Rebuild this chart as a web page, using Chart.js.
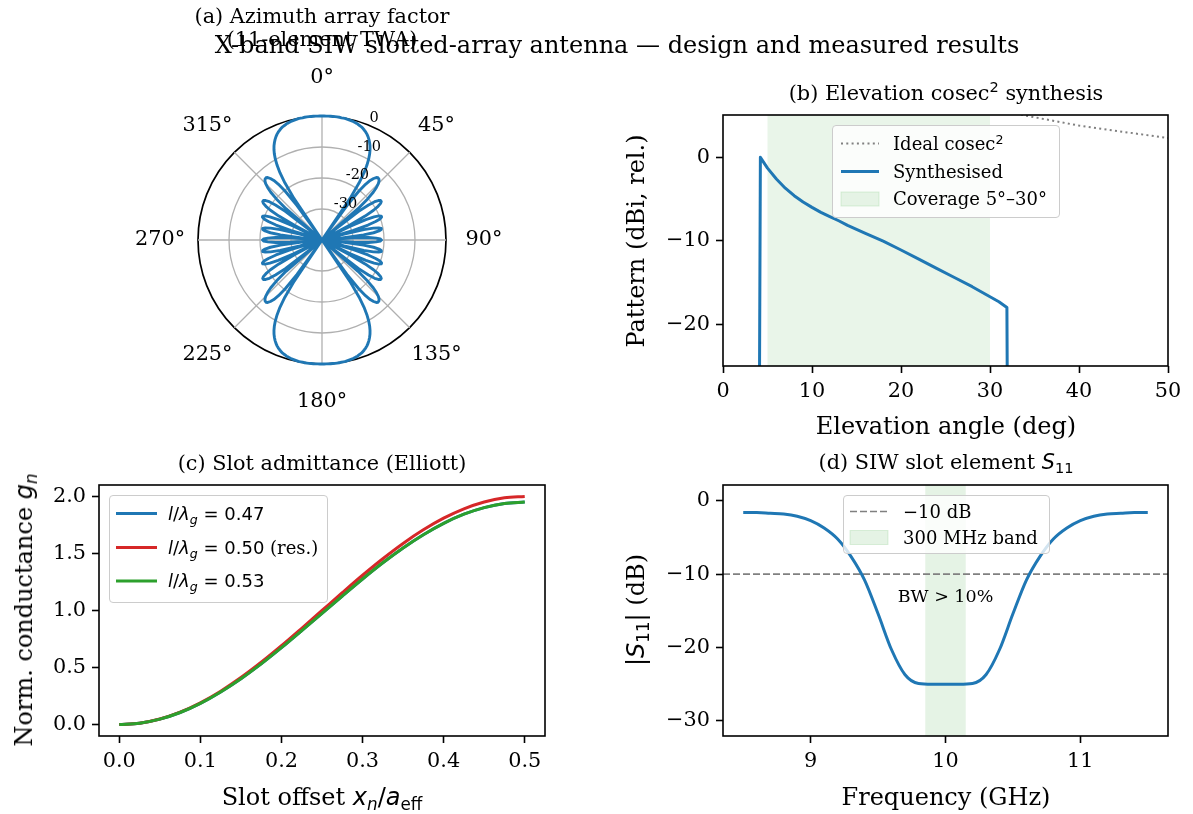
<!DOCTYPE html>
<html lang="en">
<head>
<meta charset="UTF-8">
<title>X-band SIW slotted-array antenna</title>
<script src="https://cdn.jsdelivr.net/npm/chart.js"></script>
<style>
  body { margin: 0; background: #fff; }
  #fig { position: relative; width: 1193px; height: 814px; overflow: hidden; font-family: 'DejaVu Serif', serif; color: #000; }
  .panel { position: absolute; }
  .txt { position: absolute; white-space: nowrap; line-height: 1; transform: translate(-50%, -50%); }
  .rot { transform: translate(-50%, -50%) rotate(-90deg); }
  .m { font-family: 'DejaVu Sans', sans-serif; }
  sub, sup { font-size: 0.7em; line-height: 0; }
  sub { vertical-align: -0.3em; }
  sup { vertical-align: 0.5em; }
  .legend { position: absolute; background: rgba(255,255,255,0.8); border: 1px solid #ccc; border-radius: 4px; box-sizing: border-box; }
  .legend svg { position: absolute; left: 0; top: 0; }
  .legend .row { position: absolute; white-space: nowrap; line-height: 1; transform: translateY(-50%); font-size: 18px; }
</style>
</head>
<body>
<div id="fig">
  <div class="panel" style="left:110px;top:0px"><canvas id="azChart" width="424" height="430"></canvas></div>
  <div class="panel" style="left:640px;top:85px"><canvas id="elChart" width="553" height="330"></canvas></div>
  <div class="panel" style="left:20px;top:455px"><canvas id="slotChart" width="545" height="330"></canvas></div>
  <div class="panel" style="left:640px;top:455px"><canvas id="s11Chart" width="553" height="330"></canvas></div>

  <div class="txt" style="left:322px;top:16px;font-size:20.8px">(a) Azimuth array factor</div>
  <div class="txt" style="left:322px;top:39px;font-size:20.8px">(11-element TWA)</div>
  <div class="txt" style="left:617px;top:45px;font-size:24px">X-band SIW slotted-array antenna — design and measured results</div>

  <div class="txt" style="left:946px;top:93px;font-size:20.8px">(b) Elevation cosec<sup class="m">2</sup> synthesis</div>
  <div class="txt rot" style="left:636px;top:241px;font-size:24px">Pattern (dBi, rel.)</div>
  <div class="txt" style="left:946px;top:426px;font-size:24px">Elevation angle (deg)</div>

  <div class="txt" style="left:322px;top:463px;font-size:20.8px">(c) Slot admittance (Elliott)</div>
  <div class="txt rot" style="left:24px;top:610px;font-size:24px">Norm. conductance <span class="m"><i>g</i><sub><i>n</i></sub></span></div>
  <div class="txt" style="left:322px;top:797px;font-size:24px">Slot offset <span class="m"><i>x</i><sub><i>n</i></sub>/<i>a</i><sub>eff</sub></span></div>

  <div class="txt" style="left:946px;top:462px;font-size:20.8px">(d) SIW slot element <span class="m"><i>S</i><sub>11</sub></span></div>
  <div class="txt rot" style="left:636px;top:610px;font-size:24px"><span class="m">|<i>S</i><sub>11</sub>|</span> (dB)</div>
  <div class="txt" style="left:946px;top:797px;font-size:24px">Frequency (GHz)</div>
</div>
<script>
// (a) azimuth array factor in dB, 0..90 deg at 1 deg steps; the pattern repeats mirrored in the other quadrants
const azQuarter = [
  0.0, 0.0, 0.0, 0.0, 0.0, 0.0, 0.0, 0.0, 0.0, -0.1,
  -0.1, -0.1, -0.2, -0.3, -0.4, -0.5, -0.7, -0.8, -1.1, -1.3,
  -1.6, -2.0, -2.4, -2.9, -3.5, -4.2, -5.0, -5.9, -7.0, -8.3,
  -9.9, -11.9, -14.4, -18.0, -23.9, -40, -26.3, -20.3, -17.2, -15.3,
  -14.1, -13.3, -13.0, -13.1, -13.5, -14.3, -15.6, -17.4, -20.2, -24.6,
  -40, -36.0, -25.0, -21.2, -19.0, -17.8, -17.2, -17.2, -17.7, -18.9,
  -20.8, -24.1, -30.1, -40, -29.8, -24.4, -21.6, -20.1, -19.4, -19.4,
  -20.1, -21.7, -24.4, -29.4, -40, -32.6, -26.1, -23.0, -21.3, -20.5,
  -20.6, -21.4, -23.2, -26.5, -33.4, -40, -29.7, -25.0, -22.5, -21.2,
  -20.8
];
const azThetaTicks = [0, 45, 90, 135, 180, 225, 270, 315];
const azThetaLabels = ['0°', '45°', '90°', '135°', '180°', '225°', '270°', '315°'];
const azRTicks = [-40, -30, -20, -10, 0];
const azRLabels = [0, -10, -20, -30];

// (b) elevation pattern
const bIdealX = [30, 32, 34, 36, 38, 40, 42, 44, 46, 48, 50];
const bIdealY = [6.0, 5.5, 5.0, 4.6, 4.2, 3.8, 3.5, 3.2, 2.9, 2.6, 2.3];
const bSynthX = [4.05, 4.2, 5, 6, 7, 8, 9, 10, 11, 12, 13, 14, 16, 18, 20, 22, 24, 26, 28, 30, 31, 31.9, 32.0];
const bSynthY = [-40, 0, -1.3, -2.6, -3.7, -4.6, -5.35, -6.0, -6.6, -7.1, -7.6, -8.15, -9.1, -10.05, -11.1, -12.2, -13.3, -14.4, -15.5, -16.7, -17.3, -18.0, -40];
const bCoverage = [5, 30];
const bXTicks = [0, 10, 20, 30, 40, 50];
const bYTicks = [-20, -10, 0];

// (c) slot conductance vs offset
const cX = [0, 0.025, 0.05, 0.075, 0.1, 0.125, 0.15, 0.175, 0.2, 0.225, 0.25, 0.275, 0.3, 0.325, 0.35, 0.375, 0.4, 0.425, 0.45, 0.475, 0.5];
const cG047 = [0, 0.012, 0.048, 0.106, 0.186, 0.286, 0.402, 0.532, 0.674, 0.823, 0.975, 1.127, 1.276, 1.418, 1.548, 1.664, 1.764, 1.844, 1.902, 1.938, 1.950];
const cG050 = [0, 0.012, 0.049, 0.109, 0.191, 0.293, 0.412, 0.546, 0.691, 0.844, 1.000, 1.156, 1.309, 1.454, 1.588, 1.707, 1.809, 1.891, 1.951, 1.988, 2.000];
const cG053 = [0, 0.012, 0.048, 0.106, 0.186, 0.286, 0.402, 0.532, 0.674, 0.823, 0.975, 1.127, 1.276, 1.418, 1.548, 1.664, 1.764, 1.844, 1.902, 1.938, 1.950];
const cXTicks = [0, 0.1, 0.2, 0.3, 0.4, 0.5];
const cYTicks = [0, 0.5, 1.0, 1.5, 2.0];

// (d) S11 of one slot element
const dFreq = [8.5, 8.6, 8.7, 8.8, 8.9, 9.0, 9.1, 9.2, 9.3, 9.4, 9.5, 9.6, 9.7, 9.8, 9.9, 10.0,
               10.1, 10.2, 10.3, 10.4, 10.5, 10.6, 10.7, 10.8, 10.9, 11.0, 11.1, 11.2, 11.3, 11.4, 11.5];
const dS11 = [-1.6, -1.6, -1.7, -1.8, -2.1, -2.7, -3.7, -5.2, -7.6, -10.8, -15.4, -20.3, -23.7, -24.9, -25.0, -25.0,
              -25.0, -24.9, -23.7, -20.3, -15.4, -10.8, -7.6, -5.2, -3.7, -2.7, -2.1, -1.8, -1.7, -1.6, -1.6];
const dBand = [9.85, 10.15];
const dLimit = -10;
const dXTicks = [9, 10, 11];
const dYTicks = [-30, -20, -10, 0];

const blue = '#1f77b4', red = '#d62728', green = '#2ca02c', gray = '#808080';
const spanFill = 'rgba(44,160,44,0.1)';
const serif = "'DejaVu Serif', serif";
Chart.defaults.font.family = serif;
Chart.defaults.color = '#000';

const pts = (xs, ys) => xs.map((x, i) => ({ x, y: ys[i] }));
const minus = v => (v < 0 ? '\u2212' + Math.abs(v) : String(v));
const oneDec = v => v.toFixed(1);

// spans, reference lines, notes and the axes box
const panelPlugin = {
  id: 'panel',
  beforeDatasetsDraw(chart, args, opts) {
    const { ctx, chartArea: a, scales } = chart;
    ctx.save();
    (opts.spans || []).forEach(s => {
      const x0 = scales.x.getPixelForValue(s.from);
      const x1 = scales.x.getPixelForValue(s.to);
      ctx.fillStyle = s.color;
      ctx.fillRect(x0, a.top, x1 - x0, a.bottom - a.top);
    });
    (opts.hlines || []).forEach(h => {
      const y = scales.y.getPixelForValue(h.value);
      ctx.strokeStyle = h.color;
      ctx.lineWidth = h.width;
      ctx.setLineDash(h.dash);
      ctx.beginPath();
      ctx.moveTo(a.left, y);
      ctx.lineTo(a.right, y);
      ctx.stroke();
    });
    ctx.restore();
  },
  afterDatasetsDraw(chart, args, opts) {
    const { ctx, chartArea: a, scales } = chart;
    ctx.save();
    (opts.notes || []).forEach(n => {
      ctx.font = n.size + 'px ' + serif;
      ctx.fillStyle = '#000';
      ctx.textAlign = 'center';
      ctx.textBaseline = 'middle';
      ctx.fillText(n.text, scales.x.getPixelForValue(n.x), scales.y.getPixelForValue(n.y));
    });
    ctx.strokeStyle = '#000';
    ctx.lineWidth = 1.6;
    ctx.strokeRect(a.left, a.top, a.right - a.left, a.bottom - a.top);
    ctx.restore();
  }
};

function axis(range, ticks, fmt, fit) {
  return {
    type: 'linear',
    min: range[0],
    max: range[1],
    afterBuildTicks: s => { s.ticks = ticks.map(v => ({ value: v })); },
    afterFit: fit,
    border: { display: false },
    grid: { drawOnChartArea: false, tickLength: 7, tickWidth: 1.6, tickColor: '#000' },
    ticks: { font: { size: 20.8 }, color: '#000', padding: 6, maxRotation: 0, autoSkip: false, callback: v => fmt(v) }
  };
}

function lineChart(id, datasets, o) {
  return new Chart(document.getElementById(id), {
    type: 'line',
    data: { datasets },
    options: {
      responsive: false,
      animation: false,
      layout: { padding: { top: 30, right: o.right, left: 0, bottom: 0 } },
      elements: { point: { radius: 0 }, line: { borderJoinStyle: 'round', borderCapStyle: 'butt' } },
      plugins: { legend: { display: false }, tooltip: { enabled: false }, panel: o.extras || {} },
      scales: {
        x: axis(o.xRange, o.xTicks, o.xFmt, s => { s.height = 49; }),
        y: axis(o.yRange, o.yTicks, o.yFmt, s => { s.width = o.yWidth; })
      }
    },
    plugins: [panelPlugin]
  });
}

// (a) polar array factor as a radar chart with one label per degree
const azAngles = Array.from({ length: 360 }, (_, i) => i);
const azPattern = azAngles.map(a => {
  const t = a % 180;
  return azQuarter[t <= 90 ? t : 180 - t];
});

const polarText = {
  id: 'polarText',
  afterDraw(chart) {
    const r = chart.scales.r, ctx = chart.ctx;
    ctx.save();
    ctx.fillStyle = '#000';
    ctx.font = '20.8px ' + serif;
    ctx.textAlign = 'center';
    ctx.textBaseline = 'middle';
    azThetaTicks.forEach((deg, i) => {
      const p = r.getPointPosition(deg, r.drawingArea + 38);
      ctx.fillText(azThetaLabels[i], p.x, p.y);
    });
    ctx.font = '14.5px ' + serif;
    ctx.textAlign = 'left';
    ctx.textBaseline = 'bottom';
    azRLabels.forEach(v => {
      const p = r.getPointPositionForValue(22.5, v);
      ctx.fillText(String(v), p.x, p.y);
    });
    ctx.restore();
  }
};

new Chart(document.getElementById('azChart'), {
  type: 'radar',
  data: {
    labels: azAngles,
    datasets: [{
      data: azPattern, borderColor: blue, borderWidth: 2.9, fill: false,
      pointRadius: 0, borderJoinStyle: 'round'
    }]
  },
  options: {
    responsive: false,
    animation: false,
    layout: { padding: { left: 88, right: 88, top: 116, bottom: 66 } },
    plugins: { legend: { display: false }, tooltip: { enabled: false } },
    scales: {
      r: {
        min: -40, max: 0,
        afterBuildTicks: s => { s.ticks = azRTicks.map(v => ({ value: v })); },
        ticks: { display: false },
        pointLabels: { display: false },
        grid: {
          circular: true,
          color: c => (c.tick && c.tick.value === 0 ? '#000' : '#b0b0b0'),
          lineWidth: c => (c.tick && c.tick.value === 0 ? 1.7 : 1.3)
        },
        angleLines: { color: '#b0b0b0', lineWidth: c => (c.index % 45 === 0 ? 1.3 : 0) }
      }
    }
  },
  plugins: [polarText]
});

// (b) elevation cosec^2 synthesis
lineChart('elChart', [
  { label: 'Ideal cosec²', data: pts(bIdealX, bIdealY), borderColor: gray, borderWidth: 2, borderDash: [2, 3.3], order: 2 },
  { label: 'Synthesised', data: pts(bSynthX, bSynthY), borderColor: blue, borderWidth: 3, order: 1 }
], {
  xRange: [0, 50], yRange: [-25, 5.07], xTicks: bXTicks, yTicks: bYTicks,
  xFmt: minus, yFmt: minus, yWidth: 83, right: 25,
  extras: { spans: [{ from: bCoverage[0], to: bCoverage[1], color: spanFill }] }
});

// (c) slot admittance
lineChart('slotChart', [
  { label: 'l/λg = 0.47', data: pts(cX, cG047), borderColor: blue, borderWidth: 3, cubicInterpolationMode: 'monotone', order: 3 },
  { label: 'l/λg = 0.50 (res.)', data: pts(cX, cG050), borderColor: red, borderWidth: 3, cubicInterpolationMode: 'monotone', order: 2 },
  { label: 'l/λg = 0.53', data: pts(cX, cG053), borderColor: green, borderWidth: 3, cubicInterpolationMode: 'monotone', order: 1 }
], {
  xRange: [-0.025, 0.525], yRange: [-0.1, 2.1], xTicks: cXTicks, yTicks: cYTicks,
  xFmt: oneDec, yFmt: oneDec, yWidth: 79, right: 20
});

// (d) S11
lineChart('s11Chart', [
  { label: 'S11', data: pts(dFreq, dS11), borderColor: blue, borderWidth: 3, cubicInterpolationMode: 'monotone' }
], {
  xRange: [8.35, 11.65], yRange: [-32.05, 2.15], xTicks: dXTicks, yTicks: dYTicks,
  xFmt: minus, yFmt: minus, yWidth: 83, right: 25,
  extras: {
    spans: [{ from: dBand[0], to: dBand[1], color: 'rgba(44,160,44,0.12)' }],
    hlines: [{ value: dLimit, color: gray, width: 1.7, dash: [7, 3] }],
    notes: [{ x: 10.0, y: -13.2, text: 'BW > 10%', size: 17.5 }]
  }
});

// legends drawn over the plots, like a semi-transparent matplotlib legend frame
function legend(x, y, w, h, sx0, sx1, tx, rows) {
  const box = document.createElement('div');
  box.className = 'legend';
  box.style.cssText = `left:${x}px;top:${y}px;width:${w}px;height:${h}px`;
  let svg = `<svg width="${w}" height="${h}">`;
  rows.forEach(r => {
    if (r.patch) {
      svg += `<rect x="${sx0}" y="${r.cy - 7}" width="${sx1 - sx0}" height="14" fill="${r.color}" stroke="rgba(44,160,44,0.15)" stroke-width="1"/>`;
    } else {
      svg += `<line x1="${sx0}" y1="${r.cy}" x2="${sx1}" y2="${r.cy}" stroke="${r.color}" stroke-width="${r.width}"` +
             (r.dash ? ` stroke-dasharray="${r.dash}"` : '') + '/>';
    }
  });
  svg += '</svg>';
  box.innerHTML = svg + rows.map(r => `<div class="row" style="left:${tx}px;top:${r.cy}px">${r.html}</div>`).join('');
  document.getElementById('fig').appendChild(box);
}

legend(832, 125, 228, 93, 8, 46, 60, [
  { cy: 17.5, color: gray, width: 2, dash: '2 3.3', html: 'Ideal cosec<sup class="m">2</sup>' },
  { cy: 45.5, color: blue, width: 3, html: 'Synthesised' },
  { cy: 73, patch: true, color: spanFill, html: `Coverage ${bCoverage[0]}°–${bCoverage[1]}°` }
]);

const lg = v => `<span class="m"><i>l</i>/<i>λ</i><sub><i>g</i></sub> = ${v}</span>`;
legend(109, 495, 219, 108, 6, 47, 58, [
  { cy: 17.5, color: blue, width: 3, html: lg('0.47') },
  { cy: 51.5, color: red, width: 3, html: lg('0.50') + ' (res.)' },
  { cy: 85, color: green, width: 3, html: lg('0.53') }
]);

legend(843, 495, 207, 59, 6, 44, 59, [
  { cy: 15.5, color: gray, width: 1.7, dash: '7 3', html: '\u221210 dB' },
  { cy: 41.5, patch: true, color: 'rgba(44,160,44,0.12)', html: '300 MHz band' }
]);
</script>
</body>
</html>
